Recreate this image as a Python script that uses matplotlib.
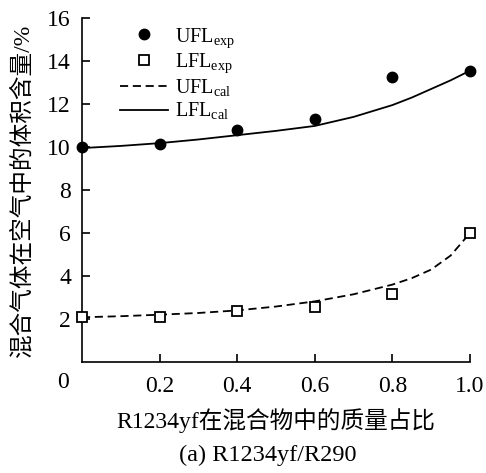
import numpy as np
import matplotlib
matplotlib.use("Agg")
import matplotlib.pyplot as plt

plt.rcParams['font.family'] = ['Liberation Serif', 'Noto Sans CJK SC']
plt.rcParams['mathtext.fontset'] = 'custom'
plt.rcParams['mathtext.rm'] = 'Liberation Serif'

# ---------------- data
xExp      = [0.0, 0.2, 0.4, 0.6, 0.8, 1.0]
uflExp    = [10.0, 10.15, 10.78, 11.28, 13.27, 13.55]
lflExp    = [2.1, 2.1, 2.35, 2.55, 3.15, 6.0]

xCal      = [0.0, 0.1, 0.2, 0.3, 0.4, 0.5, 0.6, 0.7, 0.8, 0.85, 0.9, 0.95, 1.0]
solidCal  = [9.95, 10.05, 10.18, 10.35, 10.55, 10.75, 10.98, 11.4, 11.95, 12.3, 12.7, 13.1, 13.55]
dashedCal = [2.08, 2.13, 2.2, 2.28, 2.4, 2.58, 2.82, 3.15, 3.6, 3.9, 4.3, 4.95, 6.0]

yTicks    = [2, 4, 6, 8, 10, 12, 14, 16]
xTicks    = [0.2, 0.4, 0.6, 0.8, 1.0]
xTickLbl  = ["0.2", "0.4", "0.6", "0.8", "1.0"]
# ----------------

fig = plt.figure(figsize=(4.86, 4.73), dpi=100)
ax  = fig.add_axes([82/486, 1-362/473, 388/486, 344/473])

ax.plot(xExp, uflExp, 'o', color='black', markersize=7.5, clip_on=False, zorder=4,
        label=r'UFL$_{\rm exp}$')
ax.plot(xExp, lflExp, 's', markerfacecolor='white', markeredgecolor='black',
        markersize=7, markeredgewidth=1.3, clip_on=False, zorder=4, label=r'LFL$_{\rm exp}$')
ax.plot(xCal, dashedCal, '--', color='black', linewidth=1.3, dashes=(4.5, 2.6),
        clip_on=False, label=r'UFL$_{\rm cal}$')
ax.plot(xCal, solidCal, '-', color='black', linewidth=1.3, clip_on=False,
        label=r'LFL$_{\rm cal}$')

ax.set_xlim(0, 1)
ax.set_ylim(0, 16)
ax.set_xticks(xTicks)
ax.set_xticklabels(xTickLbl)
ax.set_yticks(yTicks)
ax.spines['top'].set_visible(False)
ax.spines['right'].set_visible(False)
for s in ['left', 'bottom']:
    ax.spines[s].set_linewidth(1.2)
ax.tick_params(direction='in', length=6, width=1.2, labelsize=17)
ax.tick_params(axis='x', pad=10)
ax.tick_params(axis='y', pad=8)

ax.text(-0.05, -0.06, "0", transform=ax.transAxes, fontsize=17, ha='center', va='center')

ax.set_xlabel("R1234yf在混合物中的质量占比", fontsize=17, labelpad=8)
ax.set_ylabel("混合气体在空气中的体积含量/%", fontsize=17, labelpad=10)
fig.text(268/486, 1-455/473, "(a) R1234yf/R290", fontsize=17.5, ha='center', va='center')

leg = ax.legend(loc='upper left', bbox_to_anchor=(0.05, 1.03), frameon=False,
                fontsize=14.5, handlelength=2.4, handletextpad=0.35, labelspacing=0.1)

fig.savefig("out.png", dpi=100)
